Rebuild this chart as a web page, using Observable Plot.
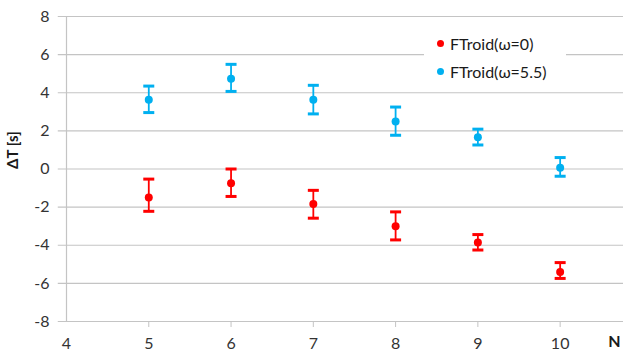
<!DOCTYPE html>
<html>
<head>
<meta charset="utf-8">
<script src="https://cdn.jsdelivr.net/npm/d3@7"></script>
<script src="https://cdn.jsdelivr.net/npm/@observablehq/plot@0.6"></script>
<style>
  html, body { margin: 0; padding: 0; background: #fff; }
  #wrap { position: relative; width: 623px; height: 358px; font-family: Lato, "Open Sans", sans-serif; }
  #wrap svg { font-family: Lato, "Open Sans", sans-serif; }
  .legend { position: absolute; left: 424px; top: 30px; width: 142px; height: 56px; background: #fff; font-size: 16px; color: #1a1a1a; }
  .legend div { position: absolute; left: 13px; white-space: nowrap; }
  .legend span.dot { display: inline-block; width: 7px; height: 7px; border-radius: 50%; margin-right: 6px; vertical-align: middle; position: relative; top: -2px; }
</style>
</head>
<body>
<div id="wrap"></div>
<script>
const N = [5, 6, 7, 8, 9, 10];
const seriesNames = ["FTroid(ω=0)", "FTroid(ω=5.5)"];
const seriesColors = ["#ff0000", "#00b0f0"];
// ω = 0
const dt0 = [-1.5, -0.75, -1.84, -3.0, -3.85, -5.4];
const lo0 = [-2.22, -1.44, -2.58, -3.72, -4.25, -5.74];
const hi0 = [-0.53, 0.0, -1.12, -2.25, -3.44, -4.91];
// ω = 5.5
const dt1 = [3.63, 4.74, 3.63, 2.49, 1.67, 0.07];
const lo1 = [2.96, 4.07, 2.89, 1.77, 1.26, -0.38];
const hi1 = [4.35, 5.49, 4.39, 3.25, 2.09, 0.6];
const yTicks = [-8, -6, -4, -2, 0, 2, 4, 6, 8];
const xTicks = [4, 5, 6, 7, 8, 9, 10];

const rows = [];
N.forEach((n, i) => {
  rows.push({n, s: seriesNames[0], v: dt0[i], lo: lo0[i], hi: hi0[i]});
  rows.push({n, s: seriesNames[1], v: dt1[i], lo: lo1[i], hi: hi1[i]});
});

const cap = { draw(ctx, size) { const r = 5.5; ctx.moveTo(-r, 0); ctx.lineTo(r, 0); } };
const color = { domain: seriesNames, range: seriesColors };
const fmt = d => String(d);

const chart = Plot.plot({
  width: 623, height: 358,
  marginLeft: 66, marginRight: 0, marginTop: 16, marginBottom: 37,
  x: { domain: [4, 10.77] },
  y: { domain: [-8, 8] },
  color,
  style: { fontSize: "16px", color: "#333" },
  marks: [
    Plot.ruleY(yTicks.slice(1), { stroke: "#c4c4c4", strokeWidth: 1.2, x1: 3.9, x2: 10.77, strokeOpacity: 1 }),
    Plot.ruleY([-8], { stroke: "#c4c4c4", strokeWidth: 1.2, x1: 3.9, x2: 10.77 }),
    Plot.ruleX([4], { stroke: "#c4c4c4", strokeWidth: 1.2 }),
    Plot.axisY({ ticks: yTicks, tickSize: 0, tickPadding: 17, tickFormat: fmt, label: null, fill: "#333" }),
    Plot.text(["ΔT [s]"], { frameAnchor: "left", dx: -53, rotate: -90, fontWeight: "bold", fontSize: 15, fill: "#1a1a1a" }),
    Plot.axisX({ ticks: N, tickSize: 6, stroke: "#c4c4c4", text: null, label: null }),
    Plot.axisX({ ticks: xTicks, tickSize: 0, tickPadding: 16, tickFormat: fmt, label: null, fill: "#333" }),
    Plot.text(["N"], { frameAnchor: "bottom-right", dx: -3, dy: 25, fontWeight: "bold", fontSize: 16, fill: "#1a1a1a" }),
    Plot.ruleX(rows, { x: "n", y1: "lo", y2: "hi", stroke: "s", strokeWidth: 1.8 }),
    Plot.dot(rows, { x: "n", y: "lo", symbol: cap, stroke: "s", strokeWidth: 3 }),
    Plot.dot(rows, { x: "n", y: "hi", symbol: cap, stroke: "s", strokeWidth: 3 }),
    Plot.dot(rows, { x: "n", y: "v", r: 4, fill: "s" })
  ]
});
const wrap = document.getElementById("wrap");
wrap.appendChild(chart);

const leg = document.createElement("div");
leg.className = "legend";
seriesNames.forEach((name, i) => {
  const d = document.createElement("div");
  d.style.top = (4 + i * 28) + "px";
  d.innerHTML = `<span class="dot" style="background:${seriesColors[i]}"></span>${name}`;
  leg.appendChild(d);
});
wrap.appendChild(leg);
</script>
</body>
</html>
